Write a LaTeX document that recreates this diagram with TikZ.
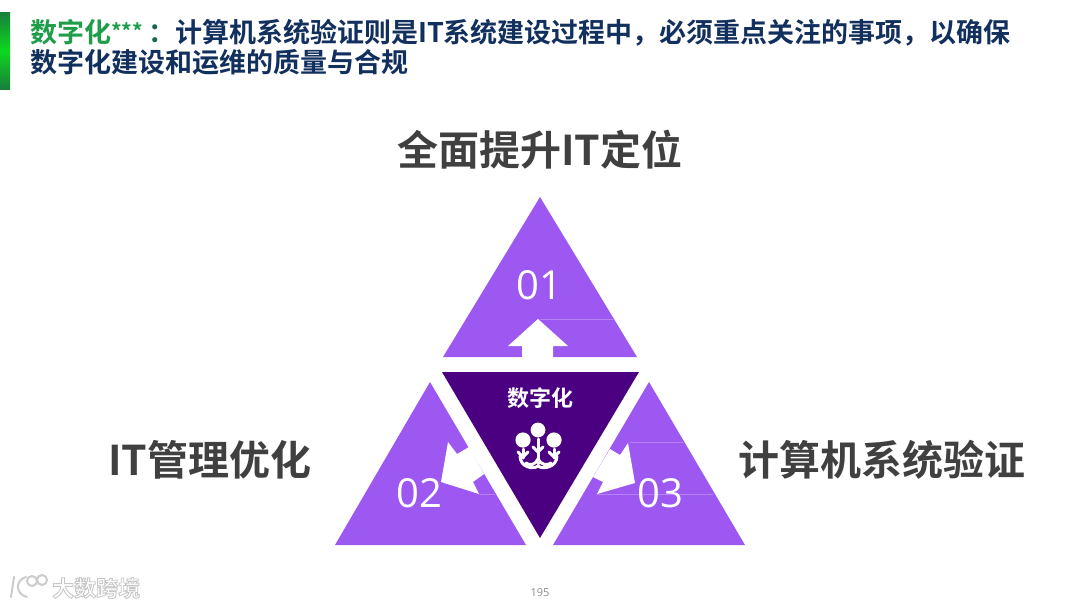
\documentclass[tikz,border=0pt]{standalone}
\usepackage{fontspec}
\setmainfont{Noto Sans CJK SC}[BoldFont={Noto Sans CJK SC Bold}]
\newfontfamily\numfont{Open Sans}
\definecolor{tri}{HTML}{9C58F0}
\definecolor{trilight}{HTML}{B583F5}
\definecolor{core}{HTML}{4B0082}
\definecolor{navy}{HTML}{12305E}
\definecolor{lead}{HTML}{1E9E4A}
\definecolor{big}{HTML}{404040}
\tikzset{
  triface/.style={fill=tri,draw=none},
  seam/.style={draw=trilight,line width=0.5pt},
  arrowface/.style={fill=white,draw=none},
  titletext/.style={anchor=west,inner sep=0pt,font=\fontsize{27}{27}\selectfont\bfseries,text=navy},
  biglabel/.style={inner sep=0pt,font=\fontsize{41}{41}\selectfont\bfseries,text=big},
  numlabel/.style={inner sep=0pt,text=white,font=\numfont\fontsize{40}{40}\selectfont},
  iconstroke/.style={draw=white,line width=3pt,line cap=round},
}
\begin{document}
\begin{tikzpicture}[x=1pt,y=-1pt]
\useasboundingbox (0,0) rectangle (1080,608);
\fill[white] (0,0) rectangle (1080,608);
% green bar
\shade[top color=lead!80!black,bottom color=lead!80!black,middle color=green!60!lead] (0,12) rectangle (10,89);
% title
\node[titletext] (t1) at (30,33) {\textcolor{lead}{数字化\raisebox{3pt}{\fontsize{21}{21}\selectfont ***}}\hspace{5pt}\textcolor{navy!50!lead}{：}计算机系统验证则是IT系统建设过程中，必须重点关注的事项，以确保};
\node[titletext] (t2) at (30,62) {数字化建设和运维的质量与合规};
% triangles
\fill[triface] (540,197) -- (637,357) -- (443,357) -- cycle;
\fill[triface] (430,382) -- (526,545) -- (335,545) -- cycle;
\fill[triface] (649,382) -- (745,545) -- (553,545) -- cycle;
\fill[core] (442,372) -- (639,372) -- (540,538) -- cycle;
% seams
\draw[seam] (540,319) -- (613,319);
\draw[seam] (630,442) -- (683,442);
\draw[seam] (597,494) -- (713,494);
\draw[seam] (479,494) -- (495,494);
% arrows
\fill[arrowface] (538,319) -- (568,346) -- (553,346) -- (553,358) -- (522,358) -- (522,346) -- (508,346) -- cycle;
\fill[arrowface] (441,482) -- (448,442) -- (457,454) -- (469,447) -- (484,474) -- (473,482) -- (479,494) -- cycle;
\fill[arrowface] (635,483) -- (628,443) -- (620,455) -- (610,449) -- (593,477) -- (603,482) -- (597,494) -- cycle;
% numbers
\node[numlabel] (n1) at (539,285) {01};
\node[numlabel] (n2) at (419.5,493) {02};
\node[numlabel] (n3) at (660.5,493) {03};
% centre label
\node[inner sep=0pt,text=white,font=\fontsize{22}{22}\selectfont\bfseries] (c) at (540,398) {数字化};
% icon
\fill[white] (538,430) circle (7.4) (523,440) circle (7.6) (554,440) circle (7.6);
\begin{scope}[iconstroke]
  \draw (538,439) -- (538,464);
  \draw (523,449) -- (523,458);
  \draw (554,449) -- (554,458);
  \draw (520,456) .. controls (520,467) and (533,470) .. (538,466) .. controls (543,470) and (557,467) .. (557,456);
  \draw (526,463) .. controls (530,466) and (535,465) .. (538,459);
  \draw (551,463) .. controls (547,466) and (541,465) .. (538,459);
  \draw (533,447) -- (538,452) -- (543,447);
  \draw (518,452) -- (523,457) -- (528,452);
  \draw (549,452) -- (554,457) -- (559,452);
\end{scope}
% big labels
\node[biglabel] (l1) at (540,150) {全面提升IT定位};
\node[biglabel] (l2) at (210,460) {IT管理优化};
\node[biglabel] (l3) at (882,460) {计算机系统验证};
% footer
\node[inner sep=0pt,text=gray!90,font=\numfont\fontsize{11}{11}\selectfont] (pg) at (540,593) {195};
% watermark
\begin{scope}[draw=black!20,line width=2pt,line cap=round]
  \draw (14,577) -- (11,597);
  \draw (26,577) .. controls (15,580) and (15,594) .. (27,597);
  \draw (32,581) circle (5);
  \draw (42,580) circle (5);
\end{scope}
\node[inner sep=0pt,anchor=west,text=white,font=\fontsize{22}{22}\selectfont\bfseries] (wm) at (52,588) {\special{pdf:code 2 Tr 0.9 w 0.78 G}大数跨境\special{pdf:code 0 Tr}};
\end{tikzpicture}
\end{document}
